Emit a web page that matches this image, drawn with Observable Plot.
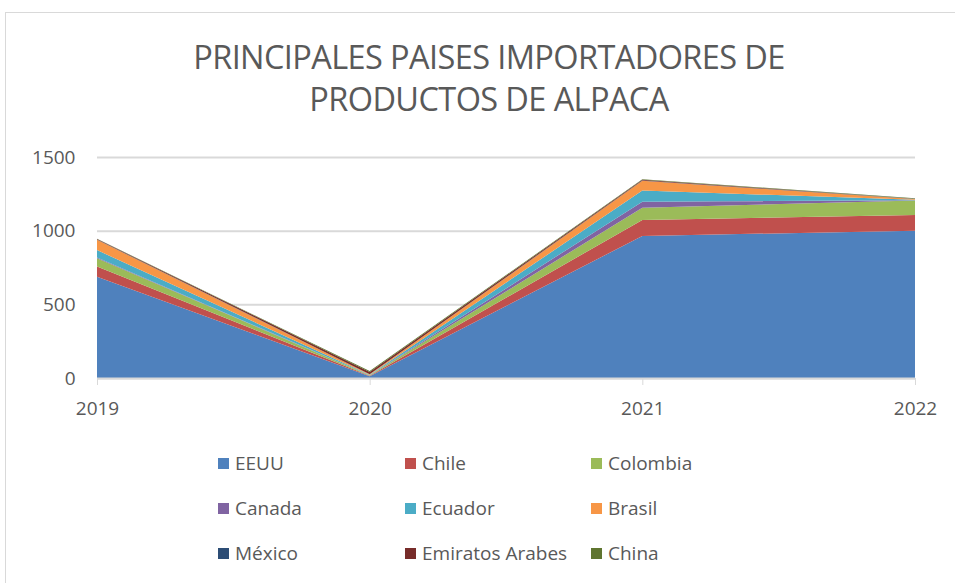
<!DOCTYPE html>
<html><head><meta charset="utf-8">
<script src="https://cdn.jsdelivr.net/npm/d3@7"></script>
<script src="https://cdn.jsdelivr.net/npm/@observablehq/plot@0.6"></script>
<style>
body{margin:0;background:#fff;font-family:"Open Sans",Lato,sans-serif;}
#wrap{position:relative;width:955px;height:583px;overflow:hidden;}
#frame{position:absolute;left:5px;top:12px;width:960px;height:600px;border:1.5px solid #d9d9d9;box-sizing:border-box;}
#title{position:absolute;left:0;width:978px;top:36px;text-align:center;font-size:32.5px;line-height:42px;color:#595959;font-family:"Open Sans",sans-serif;letter-spacing:-0.6px;}
#chart{position:absolute;left:0;top:130px;}
#legend{position:absolute;left:0;top:0;}
.li{position:absolute;font-size:19px;color:#595959;display:flex;align-items:center;white-space:nowrap;}
.sw{width:11px;height:11px;margin-right:6px;}
</style></head><body>
<div id="wrap">
<div id="frame"></div>
<div id="title">PRINCIPALES PAISES IMPORTADORES DE<br>PRODUCTOS DE ALPACA</div>
<div id="chart"></div>
<div id="legend"></div>
</div>
<script>
const years = [2019, 2020, 2021, 2022];
const countries = ["EEUU","Chile","Colombia","Canada","Ecuador","Brasil","México","Emiratos Arabes","China"];
const colors = ["#4F81BD","#C0504D","#9BBB59","#8064A2","#4BACC6","#F79646","#2C4D75","#772C2A","#5F7530"];
const EEUU = [688, 12, 964, 1000];
const Chile = [68, 3, 109, 107];
const Colombia = [57, 3, 83, 97];
const Canada = [5, 1, 41, 3];
const Ecuador = [50, 3, 75, 3];
const Brasil = [70, 3, 66, 5];
const Mexico = [2, 1, 3, 1];
const Emiratos = [3, 15, 4, 1];
const China = [2, 6, 4, 3];
const yTicks = [0, 500, 1000, 1500];

const series = [EEUU, Chile, Colombia, Canada, Ecuador, Brasil, Mexico, Emiratos, China];
const data = [];
countries.forEach((c, i) => years.forEach((y, j) => data.push({country: c, year: y, value: series[i][j]})));

const chart = Plot.plot({
  width: 955, height: 300,
  marginLeft: 97, marginRight: 40, marginTop: 27, marginBottom: 52,
  style: {fontFamily: "'Open Sans', sans-serif", fontSize: "18px", color: "#595959", background: "transparent"},
  x: {domain: [2019, 2022], label: null},
  y: {domain: [0, 1500], label: null},
  color: {domain: countries, range: colors},
  marks: [
    Plot.gridY(yTicks, {stroke: "#d9d9d9", strokeOpacity: 1, strokeWidth: 2}),
    Plot.areaY(data, {x: "year", y: "value", fill: "country", z: "country", order: countries}),
    Plot.ruleY([0], {stroke: "#d9d9d9", strokeWidth: 2}),
    Plot.axisX({ticks: years, tickFormat: d => String(d), stroke: "#d9d9d9", tickSize: 7, tickPadding: 16, fill: "#595959", fontSize: 19}),
    Plot.axisY({ticks: yTicks, tickFormat: d => String(d), tickSize: 0, tickPadding: 22, fill: "#595959", fontSize: 19})
  ]
});
document.getElementById("chart").appendChild(chart);

const leg = document.getElementById("legend");
const colX = [218, 405, 591];
const rowY = [464, 509, 554];
countries.forEach((c, i) => {
  const d = document.createElement("div");
  d.className = "li";
  d.style.left = colX[i % 3] + "px";
  d.style.top = (rowY[Math.floor(i / 3)] - 14) + "px";
  d.innerHTML = `<span class="sw" style="background:${colors[i]}"></span><span>${c}</span>`;
  leg.appendChild(d);
});
</script>
</body></html>
